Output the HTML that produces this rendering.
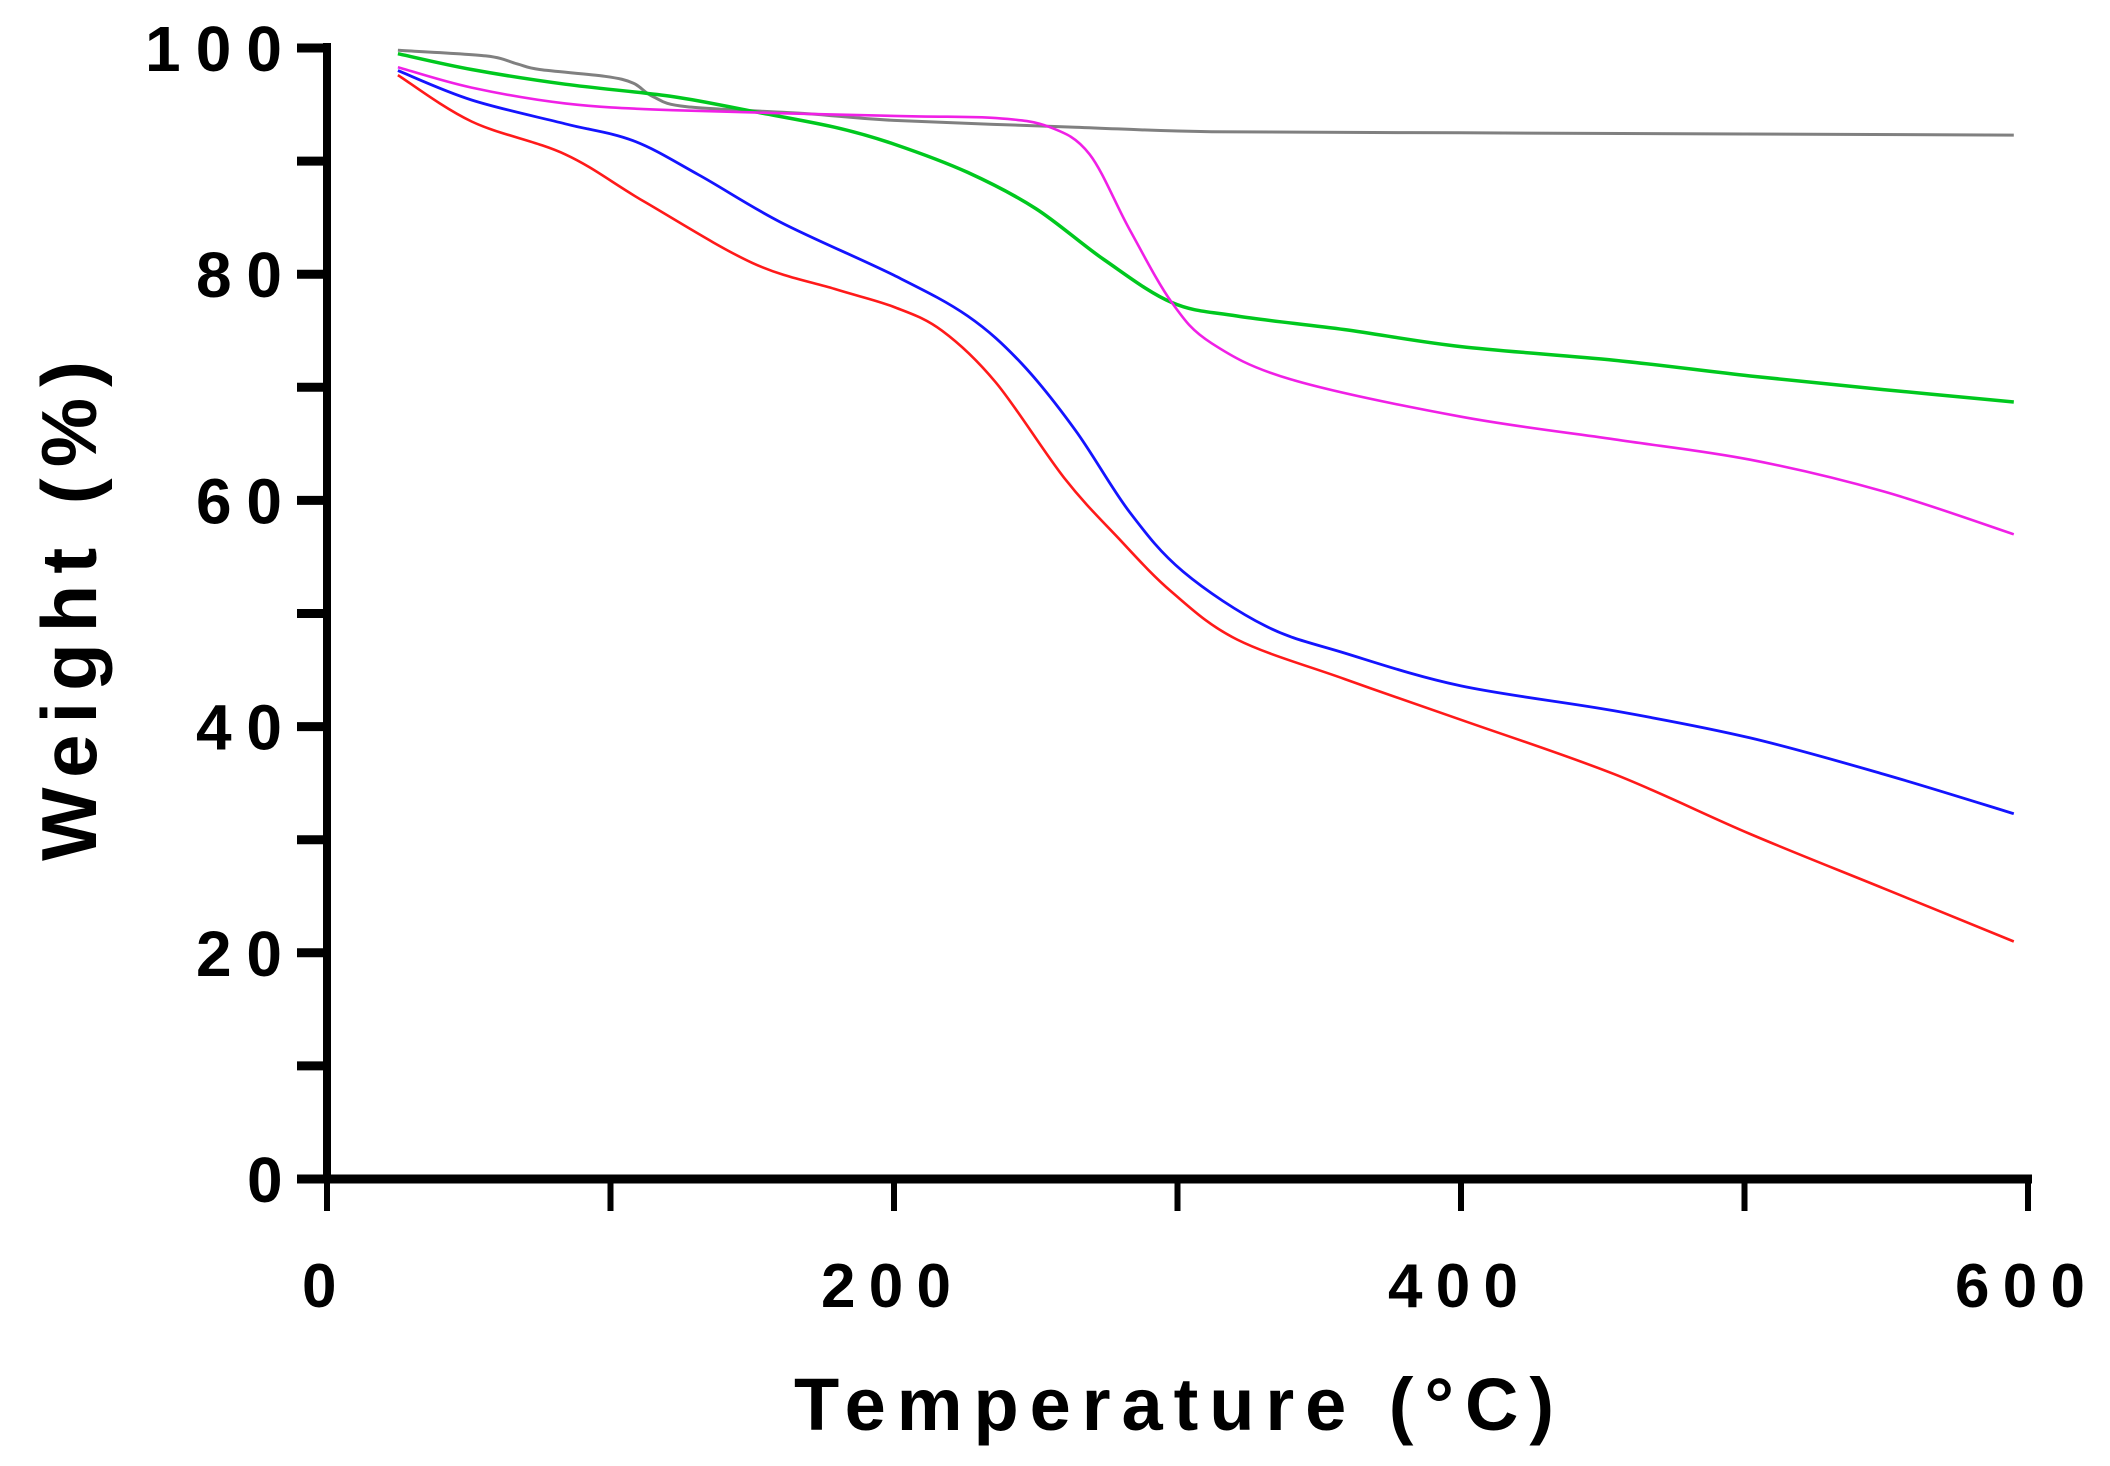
<!DOCTYPE html>
<html><head><meta charset="utf-8"><style>
html,body{margin:0;padding:0;background:#fff;}
svg{display:block;}
text{font-family:"Liberation Sans",Arial,sans-serif;font-weight:bold;fill:#000;}
</style></head><body>
<svg id="chart" width="2110" height="1466" viewBox="0 0 2110 1466" xmlns="http://www.w3.org/2000/svg">
<g id="axes"></g>
<g id="series"></g>
<text x="794" y="1430" font-size="74" textLength="760" lengthAdjust="spacing">Temperature (°C)</text>
<text transform="translate(96,861) rotate(-90)" x="0" y="0" font-size="78" textLength="500" lengthAdjust="spacing">Weight (%)</text>
</svg>
<script>
const xTicks = [0,100,200,300,400,500,600];
const xTickLabels = ["0","","200","","400","","600"];
const yTicks = [0,10,20,30,40,50,60,70,80,90,100];
const yTickLabels = ["0","","20","","40","","60","","80","","100"];

const grayT = [25,56,67,75,98,108,115,127,169,200,264,312,400,500,595];
const grayW = [99.8,99.3,98.6,98.1,97.5,96.9,95.7,94.8,94.2,93.6,93.0,92.6,92.5,92.4,92.3];
const greenT = [25,51,84,122,150,179,200,226,250,274,298,321,359,400,454,502,549,595];
const greenW = [99.5,98.1,96.8,95.7,94.4,93.0,91.5,89.0,85.8,81.3,77.5,76.3,75.1,73.6,72.4,71.0,69.8,68.7];
const magentaT = [25,51,84,122,200,236,255,269,283,298,312,340,400,454,502,549,595];
const magentaW = [98.3,96.5,95.1,94.5,94.0,93.8,93.0,90.6,84.0,77.5,73.9,70.7,67.4,65.4,63.6,60.8,57.0];
const blueT = [25,51,84,108,131,160,200,226,245,264,283,302,331,359,400,454,502,549,595];
const blueW = [98.0,95.4,93.3,91.8,88.8,84.6,79.9,76.3,72.1,66.2,59.0,53.7,48.9,46.5,43.6,41.4,39.0,35.8,32.3];
const redT = [25,51,84,112,150,179,200,217,236,260,279,298,321,359,400,454,502,549,595];
const redW = [97.6,93.5,90.6,86.4,81.0,78.7,77.1,75.0,70.4,62.0,56.7,51.9,47.7,44.2,40.6,35.8,30.5,25.7,21.0];

const NS = "http://www.w3.org/2000/svg";
const X0 = 327, X1 = 2028, Y0 = 1179, Y1 = 48;
function xs(t){ return X0 + (t/600)*(X1-X0); }
function ys(w){ return Y0 - (w/100)*(Y0-Y1); }
function mk(tag, attrs, parent){ const e=document.createElementNS(NS,tag); for(const k in attrs) e.setAttribute(k,attrs[k]); parent.appendChild(e); return e; }

const axes = document.getElementById('axes');
const ya = mk('line',{x1:X0,y1:Y1-5,x2:X0,y2:Y0+4,stroke:'#000','stroke-width':8},axes);


const xa = mk('line',{x1:X0-30,y1:Y0,x2:X1+4,y2:Y0,stroke:'#000','stroke-width':9},axes);



yTicks.forEach((v,i)=>{
  const t = mk('line',{x1:X0-30,y1:ys(v),x2:X0,y2:ys(v),stroke:'#000','stroke-width':9},axes);
  
  
  const lab = yTickLabels[i];
  if(lab){
    const len = lab.length*51-16;
    const tx = mk('text',{x:282-len,y:ys(v)+23,'font-size':64,textLength:len,lengthAdjust:'spacing'},axes);
    tx.textContent = lab;
    
    
  }
});
xTicks.forEach((v,i)=>{
  const t = mk('line',{x1:xs(v),y1:Y0,x2:xs(v),y2:Y0+32,stroke:'#000','stroke-width':6},axes);
  
  
  const lab = xTickLabels[i];
  if(lab){
    const len = lab.length*48-14;
    const tx = mk('text',{x:xs(v)-8-len/2,y:1307,'font-size':62,textLength:len,lengthAdjust:'spacing'},axes);
    tx.textContent = lab;
    
    
  }
});

function pathFrom(T,W){
  const p = T.map((t,i)=>[xs(t),ys(W[i])]);
  let d = 'M'+p[0][0].toFixed(1)+','+p[0][1].toFixed(1);
  for(let i=0;i<p.length-1;i++){
    const a=p[Math.max(i-1,0)], b=p[i], c=p[i+1], e=p[Math.min(i+2,p.length-1)];
    const c1=[b[0]+(c[0]-a[0])/6, b[1]+(c[1]-a[1])/6];
    const c2=[c[0]-(e[0]-b[0])/6, c[1]-(e[1]-b[1])/6];
    d+=' C'+c1[0].toFixed(1)+','+c1[1].toFixed(1)+' '+c2[0].toFixed(1)+','+c2[1].toFixed(1)+' '+c[0].toFixed(1)+','+c[1].toFixed(1);
  }
  return d;
}
const sg = document.getElementById('series');
const gl = mk('path',{d:pathFrom(grayT,grayW),fill:'none',stroke:'#808080','stroke-width':3},sg);


const grl = mk('path',{d:pathFrom(greenT,greenW),fill:'none',stroke:'#00c81e','stroke-width':3.5},sg);


const ml = mk('path',{d:pathFrom(magentaT,magentaW),fill:'none',stroke:'#f020e6','stroke-width':2.6},sg);


const bl = mk('path',{d:pathFrom(blueT,blueW),fill:'none',stroke:'#1414ff','stroke-width':2.8},sg);


const rl = mk('path',{d:pathFrom(redT,redW),fill:'none',stroke:'#ff1a1a','stroke-width':2.6},sg);


</script>
</body></html>
